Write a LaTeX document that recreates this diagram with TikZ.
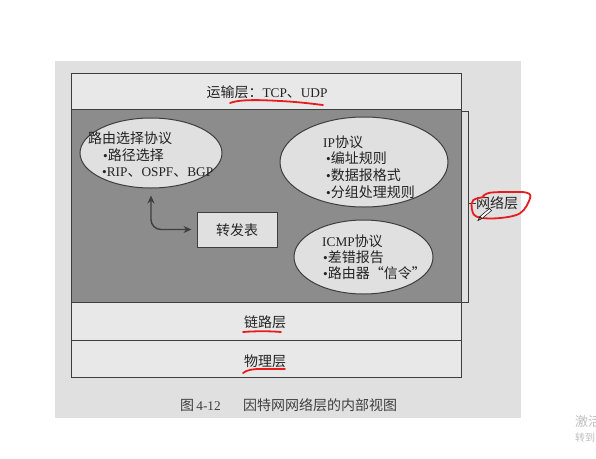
\documentclass[tikz,border=0pt]{standalone}
\usepackage{fontspec}
\setmainfont{Liberation Serif}[Scale=0.95]
\newfontfamily\cjk{Noto Sans CJK SC}
\newcommand\zh[1]{{\cjk #1}}
\usetikzlibrary{shapes.geometric,arrows.meta}
\definecolor{pagebg}{RGB}{224,224,224}
\definecolor{bandbg}{RGB}{232,232,232}
\definecolor{darkbg}{RGB}{140,140,140}
\definecolor{ellbg}{RGB}{224,224,224}
\definecolor{ink}{RGB}{62,62,62}
\definecolor{inkt}{RGB}{35,35,35}
\definecolor{redpen}{RGB}{232,28,28}
\definecolor{wmark}{RGB}{190,190,190}
\tikzset{
  band/.style={draw=ink, line width=1pt, rectangle, inner sep=0, minimum width=390pt},
  ell/.style={draw=ink, line width=1pt, ellipse, fill=ellbg, inner sep=0},
  txt/.style={anchor=west, inner sep=0, text height=12pt, text depth=1.5pt, font=\fontsize{14}{16}\selectfont, text=inkt},
  ctxt/.style={txt, anchor=center},
  conn/.style={draw=ink, line width=1.4pt, rounded corners=10pt, {Stealth[length=8pt,width=7pt]}-{Stealth[length=8pt,width=7pt]}},
  redline/.style={draw=redpen, line width=1.8pt, line cap=round, line join=round}
}
\begin{document}
\begin{tikzpicture}[x=1pt,y=-1pt]
\useasboundingbox (0,0) rectangle (596,458);
\fill[white] (0,0) rectangle (596,458);
% scanned page
\fill[pagebg] (55,61) rectangle (521,418);
% layers
\node[band, fill=bandbg, minimum height=36pt] (trans) at (266,91) {};
\node[band, fill=darkbg, minimum height=193pt] (net) at (266,205.5) {};
\node[band, fill=bandbg, minimum height=38pt] (link) at (266,321) {};
\node[band, fill=bandbg, minimum height=37pt] (phys) at (266,358.5) {};
\node[ctxt] (transT) at (267,92) {\zh{运输层：}TCP\zh{、}UDP};
\node[ctxt] (linkT) at (265,322) {\zh{链路层}};
\node[ctxt] (physT) at (265,361) {\zh{物理层}};
% ellipses
\node[ell, minimum width=142pt, minimum height=70pt] (r) at (151,153) {};
\node[ell, minimum width=168pt, minimum height=90pt] (ip) at (364,162) {};
\node[ell, minimum width=139pt, minimum height=74pt] (icmp) at (363.5,257) {};
\node[draw=ink, line width=1pt, fill=ellbg, minimum width=80pt, minimum height=35pt, inner sep=0] (f) at (237,229.5) {};
\node[ctxt] (fT) at (237,230) {\zh{转发表}};
% routing text
\node[txt] (r1) at (88,138) {\zh{路由选择协议}};
\node[txt] (r2) at (103,155) {•\zh{路径选择}};
\node[txt] (r3) at (102,171) {•RIP\zh{、}OSPF\zh{、}BGP};
% IP text
\node[txt] (i1) at (323,142) {IP\zh{协议}};
\node[txt] (i2) at (326,158) {•\zh{编址规则}};
\node[txt] (i3) at (326,175) {•\zh{数据报格式}};
\node[txt] (i4) at (326,192) {•\zh{分组处理规则}};
% ICMP text
\node[txt] (c1) at (322,241) {ICMP\zh{协议}};
\node[txt] (c2) at (323,257) {•\zh{差错报告}};
\node[txt] (c3) at (323,273) {•\zh{路由器“信令”}};
% connector
\draw[conn] ([yshift=-7pt]r.south) |- ([xshift=-5pt]f.west);
% bracket
\coordinate (bt) at (468,111);
\coordinate (bb) at (468,302);
\coordinate (bm) at (468,203);
\draw[ink, line width=0.9pt] (462,111) -- (bt) -- (bb) -- (462,302);
\node[txt] (netT) at (476,203) {\zh{网络层}};
\draw[ink, line width=0.9pt] (bm) -- (netT.west);
% caption
\node[txt, text=ink] (cap1) at (180,405) {\zh{图}\,4-12};
\node[txt, text=ink, font=\fontsize{14}{16}\selectfont\addfontfeature{LetterSpace=15}] (cap2) at (243,405) {\zh{因特网网络层的内部视图}};
% red annotations
\draw[redline] (230,103) .. controls (240,99) and (262,100) .. (280,101) .. controls (300,102) and (314,104) .. (323,105);
\draw[redline] (243,332) .. controls (255,331) and (270,331) .. (281,332);
\draw[redline] (243,373) .. controls (247,370) and (252,369) .. (260,369) -- (285,369);
\draw[redline] plot[smooth, tension=0.6] coordinates {(483,196) (490,192.7) (510,192) (526.7,192.7) (530,198.3) (520,213.3) (496.7,218.3) (476.7,216.7) (471.7,208.3) (473.3,200) (484,197)};
% pen cursor
\draw[black, fill=white, line width=0.5pt] (489.5,208.5) -- (491.5,210.5) -- (482,218.5) -- (480,216.5) -- cycle;
\draw[black, line width=0.5pt] (480,216.5) -- (478,220.5) -- (482,218.5);
% watermark
\node[anchor=west, inner sep=0, text=wmark, font=\fontsize{13}{15}\selectfont] (wm1) at (575,422) {\zh{激活}};
\node[anchor=west, inner sep=0, text=wmark, font=\fontsize{10}{12}\selectfont] (wm2) at (575,438) {\zh{转到}};
\end{tikzpicture}
\end{document}
